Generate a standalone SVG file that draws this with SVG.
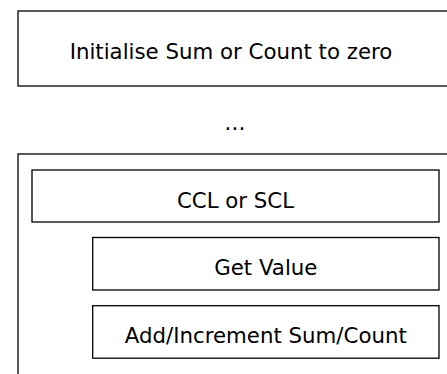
<svg xmlns="http://www.w3.org/2000/svg" width="447" height="374" viewBox="0 0 447 374">
<style>
.box{fill:#fff;stroke:#000;stroke-width:1.3}
.t{font-family:"DejaVu Sans",sans-serif;font-size:21.3px;fill:#000;text-anchor:middle}
</style>
<rect width="447" height="374" fill="#fff"/>
<g id="init">
<rect class="box" x="18" y="11" width="440" height="75"/>
<text class="t" x="231" y="58.5">Initialise Sum or Count to zero</text>
</g>
<g id="ellipsis">
<text class="t" x="235" y="130">…</text>
</g>
<g id="loop">
<rect class="box" x="18" y="154" width="440" height="230"/>
</g>
<g id="ccl">
<rect class="box" x="32" y="170" width="407" height="52"/>
<text class="t" x="235.5" y="208">CCL or SCL</text>
</g>
<g id="get">
<rect class="box" x="92.7" y="237.5" width="346.3" height="52.5"/>
<text class="t" x="265.8" y="275">Get Value</text>
</g>
<g id="add">
<rect class="box" x="92.7" y="305.7" width="346.3" height="52.5"/>
<text class="t" x="265.8" y="343">Add/Increment Sum/Count</text>
</g>
<g id="connectors"></g>
</svg>
